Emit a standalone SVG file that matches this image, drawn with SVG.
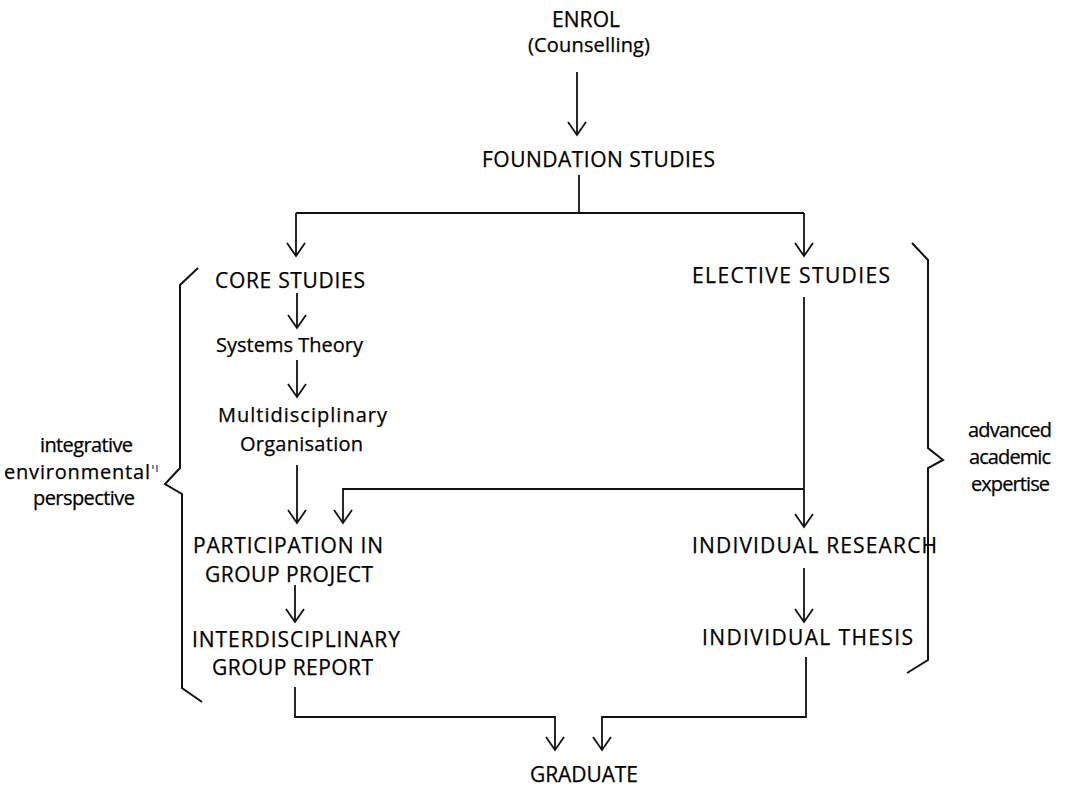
<svg xmlns="http://www.w3.org/2000/svg" width="1069" height="786" viewBox="0 0 1069 786">
<style>
text{font-family:"Open Sans","Liberation Sans",sans-serif;font-size:20px;fill:#000;stroke:#000;stroke-width:0.25;}
.cap{font-size:21px;}
.ln{fill:none;stroke:#111;stroke-width:1.8;stroke-linejoin:miter;}
.br{fill:none;stroke:#111;stroke-width:2;}
.tk{fill:none;stroke:#111;stroke-width:1;}
</style>
<defs>
<marker id="ah" markerUnits="userSpaceOnUse" viewBox="-15 -10 17 20" refX="0" refY="0" markerWidth="17" markerHeight="20" orient="auto">
<path d="M-13,-9 L0,0 L-13,9" fill="none" stroke="#111" stroke-width="1.8"/>
</marker>
</defs>
<rect width="1069" height="786" fill="#fff"/>
<g id="connectors">
<path class="ln" d="M577,72 V135" marker-end="url(#ah)"/>
<path class="ln" d="M579,175 V213"/>
<path class="ln" d="M296,213 H804"/>
<path class="ln" d="M296,213 V256" marker-end="url(#ah)"/>
<path class="ln" d="M804,213 V256" marker-end="url(#ah)"/>
<path class="ln" d="M297,293 V328" marker-end="url(#ah)"/>
<path class="ln" d="M297,360 V397" marker-end="url(#ah)"/>
<path class="ln" d="M297,465 V523" marker-end="url(#ah)"/>
<path class="ln" d="M804,489 H343 V523" marker-end="url(#ah)"/>
<path class="ln" d="M804,297 V527" marker-end="url(#ah)"/>
<path class="ln" d="M295,585 V622" marker-end="url(#ah)"/>
<path class="ln" d="M804,568 V622" marker-end="url(#ah)"/>
<path class="ln" d="M295,687 V717 H555 V750" marker-end="url(#ah)"/>
<path class="ln" d="M806,657 V717 H602 V750" marker-end="url(#ah)"/>
</g>
<g id="brace-left">
<path class="br" d="M198,268 L180,285 V468 L165,484 L182,494 V688 L202,702"/>
<path class="tk" d="M153,465 V469 M157,465 V472"/>
<text x="40" y="452" textLength="93">integrative</text>
<text x="4" y="479" textLength="146">environmental</text>
<text x="33" y="505" textLength="102">perspective</text>
</g>
<g id="brace-right">
<path class="br" d="M912,243 L928,260 V448 L943,460 L928,468 V660 L907,673"/>
<text x="968" y="437" textLength="84">advanced</text>
<text x="969" y="464" textLength="82">academic</text>
<text x="971" y="491" textLength="79">expertise</text>
</g>
<g id="enrol">
<text class="cap" x="552" y="27" textLength="68">ENROL</text>
<text x="528" y="52" textLength="122">(Counselling)</text>
</g>
<g id="foundation"><text class="cap" x="482" y="167" textLength="233">FOUNDATION STUDIES</text></g>
<g id="core"><text class="cap" x="215" y="288" textLength="150">CORE STUDIES</text></g>
<g id="systems"><text x="216" y="352" textLength="147">Systems Theory</text></g>
<g id="multi">
<text x="218" y="422" textLength="169">Multidisciplinary</text>
<text x="240" y="451" textLength="123">Organisation</text>
</g>
<g id="elective"><text class="cap" x="692" y="283" textLength="198">ELECTIVE STUDIES</text></g>
<g id="participation">
<text class="cap" x="193" y="553" textLength="190">PARTICIPATION IN</text>
<text class="cap" x="205" y="582" textLength="168">GROUP PROJECT</text>
</g>
<g id="interdisciplinary">
<text class="cap" x="192" y="647" textLength="208">INTERDISCIPLINARY</text>
<text class="cap" x="212" y="675" textLength="161">GROUP REPORT</text>
</g>
<g id="research"><text class="cap" x="692" y="553" textLength="245">INDIVIDUAL RESEARCH</text></g>
<g id="thesis"><text class="cap" x="702" y="645" textLength="211">INDIVIDUAL THESIS</text></g>
<g id="graduate"><text class="cap" x="530" y="782" textLength="108">GRADUATE</text></g>
</svg>
